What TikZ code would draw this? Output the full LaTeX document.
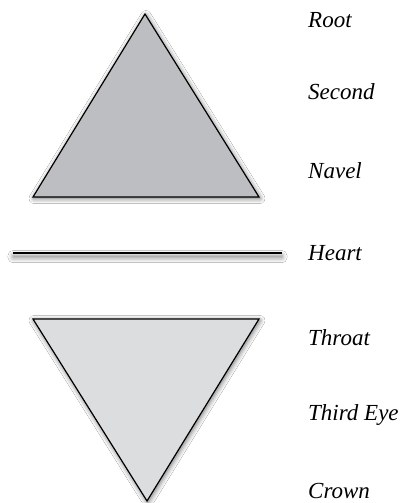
\documentclass[tikz,border=0pt]{standalone}
\usepackage{fontspec}
\newfontfamily\labfont{Liberation Serif}
\usetikzlibrary{shadows.blur}
\definecolor{upfill}{HTML}{BDBEC2}
\definecolor{downfill}{HTML}{DCDDDF}
\tikzset{
  tri/.style={draw=black, line width=1.2pt, line join=miter,
    blur shadow={shadow xshift=1pt, shadow yshift=-1.5pt, shadow blur radius=5pt, shadow opacity=60}},
  barshadow/.style={draw=none,
    blur shadow={shadow xshift=0pt, shadow yshift=-3.5pt, shadow blur radius=5pt, shadow opacity=50}},
  bar/.style={draw=black, line width=1.3pt},
  lab/.style={anchor=base west, inner sep=0pt, font=\labfont\itshape\fontsize{23}{26}\selectfont}
}
\begin{document}
\begin{tikzpicture}[x=1pt,y=-1pt]
\useasboundingbox[fill=white] (0,0) rectangle (405,503);
% upper triangle
\path[tri, fill=upfill] (145,14) -- (259,197) -- (33,197) -- cycle;
% heart line
\path[barshadow] (13,252) rectangle (282,254.2);
\coordinate (hl) at (13,253.1);
\coordinate (hr) at (282,253.1);
\draw[bar] (hl) -- (hr);
% lower triangle
\path[tri, fill=downfill] (33,319) -- (259,319) -- (147,501) -- cycle;
% labels
\node[lab] (root)   at (308,28)  {Root};
\node[lab] (second) at (308,99)  {Second};
\node[lab] (navel)  at (308,178) {Navel};
\node[lab] (heart)  at (308,260) {Heart};
\node[lab] (throat) at (308,345) {Throat};
\node[lab] (third)  at (308,420) {Third Eye};
\node[lab] (crown)  at (308,498) {Crown};
\end{tikzpicture}
\end{document}
